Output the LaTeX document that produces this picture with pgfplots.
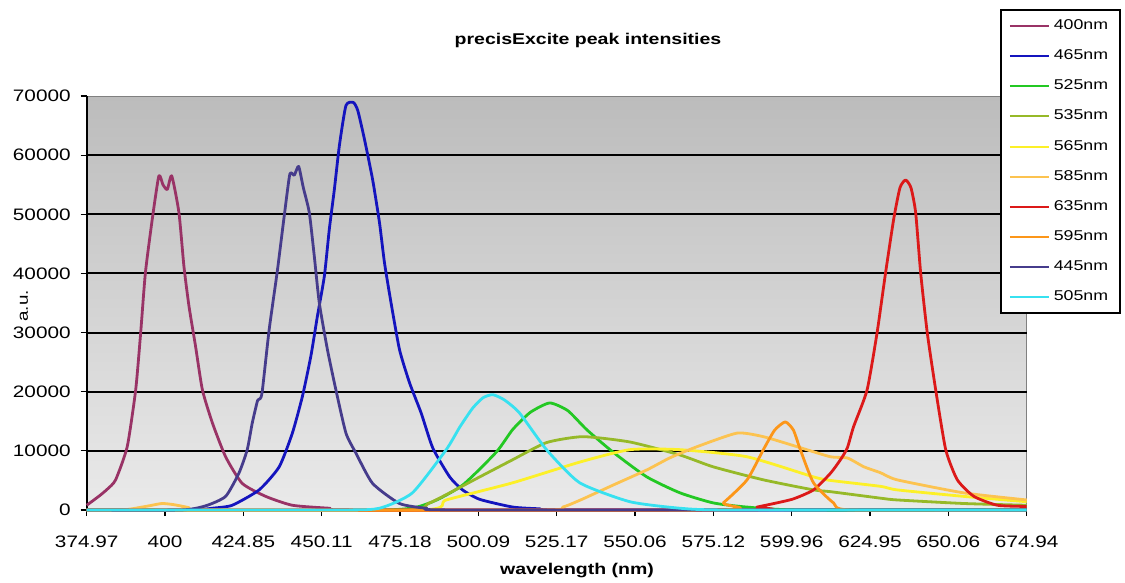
\documentclass[border=0pt]{standalone}
\usepackage{pgfplots}
\pgfplotsset{compat=1.18}
\usepackage{fontspec}
\setmainfont{Liberation Sans}[FakeStretch=1.25]

\definecolor{c400}{RGB}{153,51,102}
\definecolor{c465}{RGB}{20,20,190}
\definecolor{c525}{RGB}{35,200,35}
\definecolor{c535}{RGB}{150,185,40}
\definecolor{c565}{RGB}{252,240,40}
\definecolor{c585}{RGB}{252,195,80}
\definecolor{c635}{RGB}{220,25,25}
\definecolor{c595}{RGB}{252,150,25}
\definecolor{c445}{RGB}{70,60,140}
\definecolor{c505}{RGB}{55,225,240}

\begin{document}
\begin{tikzpicture}
\path[use as bounding box] (0,0) rectangle (562.5bp,291.5bp);
\begin{axis}[
    at={(43.35bp,36.5bp)}, anchor=south west,
    scale only axis, width=470bp, height=207bp,
    xmin=374.97, xmax=674.94, ymin=0, ymax=70000,
    clip=false,
    axis x line*=bottom, axis y line*=left,
    axis line style={black, line width=0.8bp, -},
    axis background/.style={shade, top color={rgb,255:red,188;green,188;blue,188},
        bottom color={rgb,255:red,234;green,234;blue,234}, draw=gray, line width=0.5bp},
    xtick={374.97,399.9675,424.965,449.9625,474.96,499.9575,524.955,549.9525,574.95,599.9475,624.945,649.9425,674.94},
    xticklabels={374.97,400,424.85,450.11,475.18,500.09,525.17,550.06,575.12,599.96,624.95,650.06,674.94},
    ytick={0,10000,...,70000},
    scaled y ticks=false,
    yticklabel style={xshift=-1.5bp, /pgf/number format/.cd, fixed, set thousands separator={}, assume math mode=true},
    xticklabel style={yshift=-6.5bp},
    extra y ticks={10000,20000,30000,40000,50000,60000},
    extra y tick labels={},
    extra y tick style={grid=major, major tick length=0pt},
    grid style={black, line width=1bp},
    tick align=outside, major tick length=3bp,
    tick style={black, line width=0.6bp},
    tick label style={font=\fontsize{8.3bp}{10bp}\selectfont},
    title={precisExcite peak intensities},
    every axis title shift=0pt,
    title style={at={(axis description cs:0.5333,1.1256)}, anchor=base,
        font=\bfseries\fontsize{7.8bp}{9bp}\selectfont},
    xlabel={wavelength (nm)},
    xlabel style={at={(axis description cs:0.5216,-0.1546)}, anchor=base,
        font=\bfseries\fontsize{7.8bp}{9bp}\selectfont},
    ylabel={a.u.},
    ylabel style={at={(axis description cs:-0.0667,0.493)}, anchor=center,
        font=\fontsize{7.5bp}{9bp}\selectfont},
    legend style={at={(axis description cs:0.9716,1.2101)}, anchor=north west,
        draw=black, line width=0.8bp, fill=white,
        font=\fontsize{7.1bp}{8.6bp}\selectfont,
        row sep=4.6bp, inner xsep=4bp, inner ysep=3bp, cells={anchor=west}},
    legend image code/.code={\draw[#1, line width=1bp] (2bp,0bp) -- (21.5bp,0bp);},
    every axis plot/.append style={line width=1.4bp, smooth, tension=0.35, line join=round},
]
% 400nm
\addplot[c400] coordinates {
(374.97,800)(378.8,2300)(381.5,3500)(384.2,5100)(387.9,10700)(390.6,20300)(392.2,30000)
(393.7,40100)(395.9,49200)(398.0,56500)(399.3,55000)(400.7,54200)(402.1,56500)(404.4,50300)
(406.0,41200)(407.6,34500)(409.7,27700)(411.9,20300)(415.1,14700)(419.3,9000)(424.6,4500)
(432.1,2300)(440.6,800)(452.4,300)(465,0)(674.94,0)};
% 465nm
\addplot[c465] coordinates {
(374.97,0)(408,0)(415.0,300)(421.4,800)(430.0,3400)(436.4,7300)(440.6,13000)(443.8,19200)
(446.5,26000)(448.6,32800)(450.8,39500)(452.4,47500)(454.0,54200)(455.6,61600)(457.7,68400)
(460.1,68900)(461.5,67500)(463.6,62700)(466.2,55900)(468.4,48600)(470.0,41800)(472.1,35000)
(474.8,27100)(478.0,21500)(481.7,16400)(485.4,10500)(490.8,5600)(494.9,3400)(500.4,1800)
(510.9,500)(519.5,200)(530,0)(674.94,0)};
% 525nm
\addplot[c525] coordinates {
(374.97,0)(470,0)(484.4,1200)(494.9,4200)(505.7,9800)(510.9,13600)(516.5,16500)(522.7,18100)
(528.5,16800)(534.5,13600)(542.9,9800)(553.7,5600)(564.3,2900)(574.9,1200)(585.6,500)
(602.7,0)(674.94,0)};
% 535nm
\addplot[c535] coordinates {
(374.97,0)(474.8,0)(484.4,1200)(500.4,5600)(510.9,8500)(521.7,11400)(533.3,12400)(548.3,11500)
(564.3,9300)(574.9,7300)(590.9,5100)(606.9,3400)(612.3,3100)(628.3,2000)(633.6,1700)
(654.8,1100)(674.94,800)};
% 565nm
\addplot[c565] coordinates {
(374.97,0)(481,0)(489.7,1700)(510.9,4600)(532.3,8100)(548.3,10200)(564.3,10200)(585.7,9000)
(606.9,5600)(612.3,5000)(628.3,4000)(633.6,3400)(654.9,2300)(674.94,1400)};
% 585nm
\addplot[c585] coordinates {
(374.97,0)(386,0)(389.4,200)(394.8,700)(399,1100)(402.8,900)(407.6,400)(411,0)(519.5,0)
(526.9,500)(533,1800)(542.9,4200)(553.8,6800)(561,8800)(569.7,10700)(582.5,13000)(590.9,12400)
(601.7,10700)(612.3,9000)(617.7,8800)(623,7300)(628.3,6300)(633.6,5100)(654.8,2900)(674.94,1700)};
% 635nm
\addplot[c635] coordinates {
(374.97,0)(583.5,0)(588.9,500)(600,1800)(606.9,3400)(612.3,6200)(615.5,8500)(617.7,10500)
(619.7,14100)(624.0,20300)(627.2,30000)(629.9,40100)(632.5,49200)(634.5,54500)(636.3,55800)
(638,54500)(639.5,50300)(641.1,40100)(643.2,30000)(645.9,20300)(649.1,10200)(652.8,5100)
(658.1,2300)(665.6,800)(674.94,600)};
% 595nm
\addplot[c595] coordinates {
(374.97,0)(573.9,0)(578.1,1200)(585.7,5100)(590.9,10200)(594.5,13500)(597.9,14900)(600.5,13500)
(602.7,10200)(606.9,4600)(613.3,1200)(618.7,0)(674.94,0)};
% 445nm
\addplot[c445] coordinates {
(374.97,0)(405,0)(412.9,700)(419.3,2300)(423.6,6300)(426.2,10200)(427.8,14700)(429.5,18500)
(430.3,18800)(431.0,20100)(433.2,30500)(435.8,40400)(438.0,49700)(439.8,56800)(441.2,56600)
(442.6,58100)(444.1,54500)(446.0,50300)(447.6,42900)(449.2,35000)(451.8,27100)(454.5,20300)
(457.7,13000)(460.9,9600)(466.2,4500)(474.8,1100)(483.3,300)(495,0)(674.94,0)};
% 505nm
\addplot[c505] coordinates {
(374.97,0)(455,0)(468.4,300)(478.9,2900)(489.7,10200)(494,14000)(498.1,17200)(501.5,19000)
(504.6,19500)(508.3,18600)(513.1,16400)(521.7,10200)(532.3,4600)(548.3,1400)(564.3,300)
(580,0)(674.94,0)};
\legend{400nm,465nm,525nm,535nm,565nm,585nm,635nm,595nm,445nm,505nm}
\end{axis}
\end{tikzpicture}
\end{document}
